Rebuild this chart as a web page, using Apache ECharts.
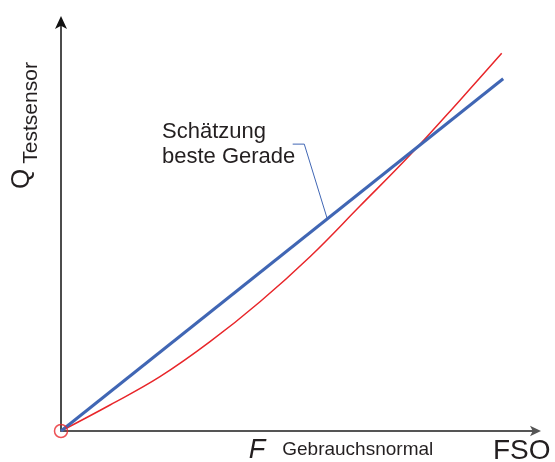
<!DOCTYPE html>
<html>
<head>
<meta charset="utf-8">
<script src="https://cdn.jsdelivr.net/npm/echarts@6/dist/echarts.min.js"></script>
<style>
    html, body { margin: 0; padding: 0; background: #fff; }
    #chart { width: 555px; height: 462px; }
</style>
</head>
<body>
<div id="chart"></div>
<script>
const fsoX = [0, 10.27, 20.75, 31.24, 41.72, 52.2, 62.68, 73.17, 83.65, 92.39];
const testsensorQ = [0, 6.33, 13.21, 21.73, 31.46, 42.41, 54.74, 67.15, 80.5, 91.9];
// beste Gerade: Start und Ende
const geradeX = [0, 92.7];
const geradeQ = [0, 85.7];
// Hinweislinie zur Geraden
const hinweisX = [48.57, 51.0, 55.83];
const hinweisQ = [69.8, 69.8, 51.6];
const fsoTick = [96.6];
const font = '"Liberation Sans", Arial, sans-serif';

var chart = echarts.init(document.getElementById('chart'));
var zip = function (xs, ys) {
    return xs.map(function (x, i) { return [x, ys[i]]; });
};
chart.setOption({
    animation: false,
    grid: { left: 61, right: 17, top: 20, bottom: 31, containLabel: false, outerBoundsMode: 'none' },
    xAxis: {
        type: 'value', min: 0, max: 100,
        splitLine: { show: false },
        axisTick: { show: false },
        axisLine: {
            lineStyle: { color: '#555', width: 2 },
            symbol: ['none', 'arrow'], symbolSize: [8, 11], symbolOffset: [0, 3]
        },
        axisLabel: {
            customValues: fsoTick,
            formatter: function () { return 'FSO'; },
            fontFamily: font, fontSize: 28, color: '#231f20', margin: 6
        },
        name: '{f|F}{g|Gebrauchsnormal}',
        nameLocation: 'middle',
        nameGap: 6,
        nameMoveOverlap: false,
        nameTextStyle: {
            padding: [0, 0, 0, 83],
            rich: {
                f: { fontFamily: font, fontSize: 27, fontStyle: 'italic', color: '#231f20', padding: [0, 17, 0, 0] },
                g: { fontFamily: font, fontSize: 19, color: '#231f20', padding: [0, 0, 2, 0] }
            }
        }
    },
    yAxis: {
        type: 'value', min: 0, max: 100,
        splitLine: { show: false },
        axisTick: { show: false },
        axisLabel: { show: false },
        axisLine: {
            lineStyle: { color: '#111', width: 1.5 },
            symbol: ['none', 'arrow'], symbolSize: [9, 13], symbolOffset: [0, 4]
        },
        name: '{q|Q}{t|Testsensor}',
        nameLocation: 'middle',
        nameRotate: 90,
        nameGap: 19,
        nameMoveOverlap: false,
        nameTextStyle: {
            padding: [0, 0, 0, 200],
            rich: {
                q: { fontFamily: font, fontSize: 26, color: '#231f20', padding: [0, 5, 7, 0], verticalAlign: 'bottom' },
                t: { fontFamily: font, fontSize: 21, color: '#231f20', verticalAlign: 'bottom' }
            }
        }
    },
    graphic: [{
        type: 'text', left: 162, top: 119,
        style: {
            text: 'Schätzung\nbeste Gerade',
            font: '22px ' + font,
            lineHeight: 25,
            fill: '#231f20'
        }
    }],
    series: [
        {
            name: 'Testsensor', type: 'line', smooth: 0.4, symbol: 'none',
            lineStyle: { color: '#e8262a', width: 1.5 },
            data: zip(fsoX, testsensorQ), z: 3
        },
        {
            name: 'beste Gerade', type: 'line', symbol: 'none',
            lineStyle: { color: '#4066b4', width: 3 },
            data: zip(geradeX, geradeQ), z: 4
        },
        {
            name: 'Hinweis', type: 'line', symbol: 'none',
            lineStyle: { color: '#4066b4', width: 1 },
            data: zip(hinweisX, hinweisQ), z: 2
        },
        {
            name: 'Nullpunkt', type: 'scatter', symbol: 'circle', symbolSize: 13,
            itemStyle: { color: 'rgba(0,0,0,0)', borderColor: '#e8262a', borderWidth: 1.5 },
            data: [[0, 0]], z: 5
        }
    ]
});
</script>
</body>
</html>
